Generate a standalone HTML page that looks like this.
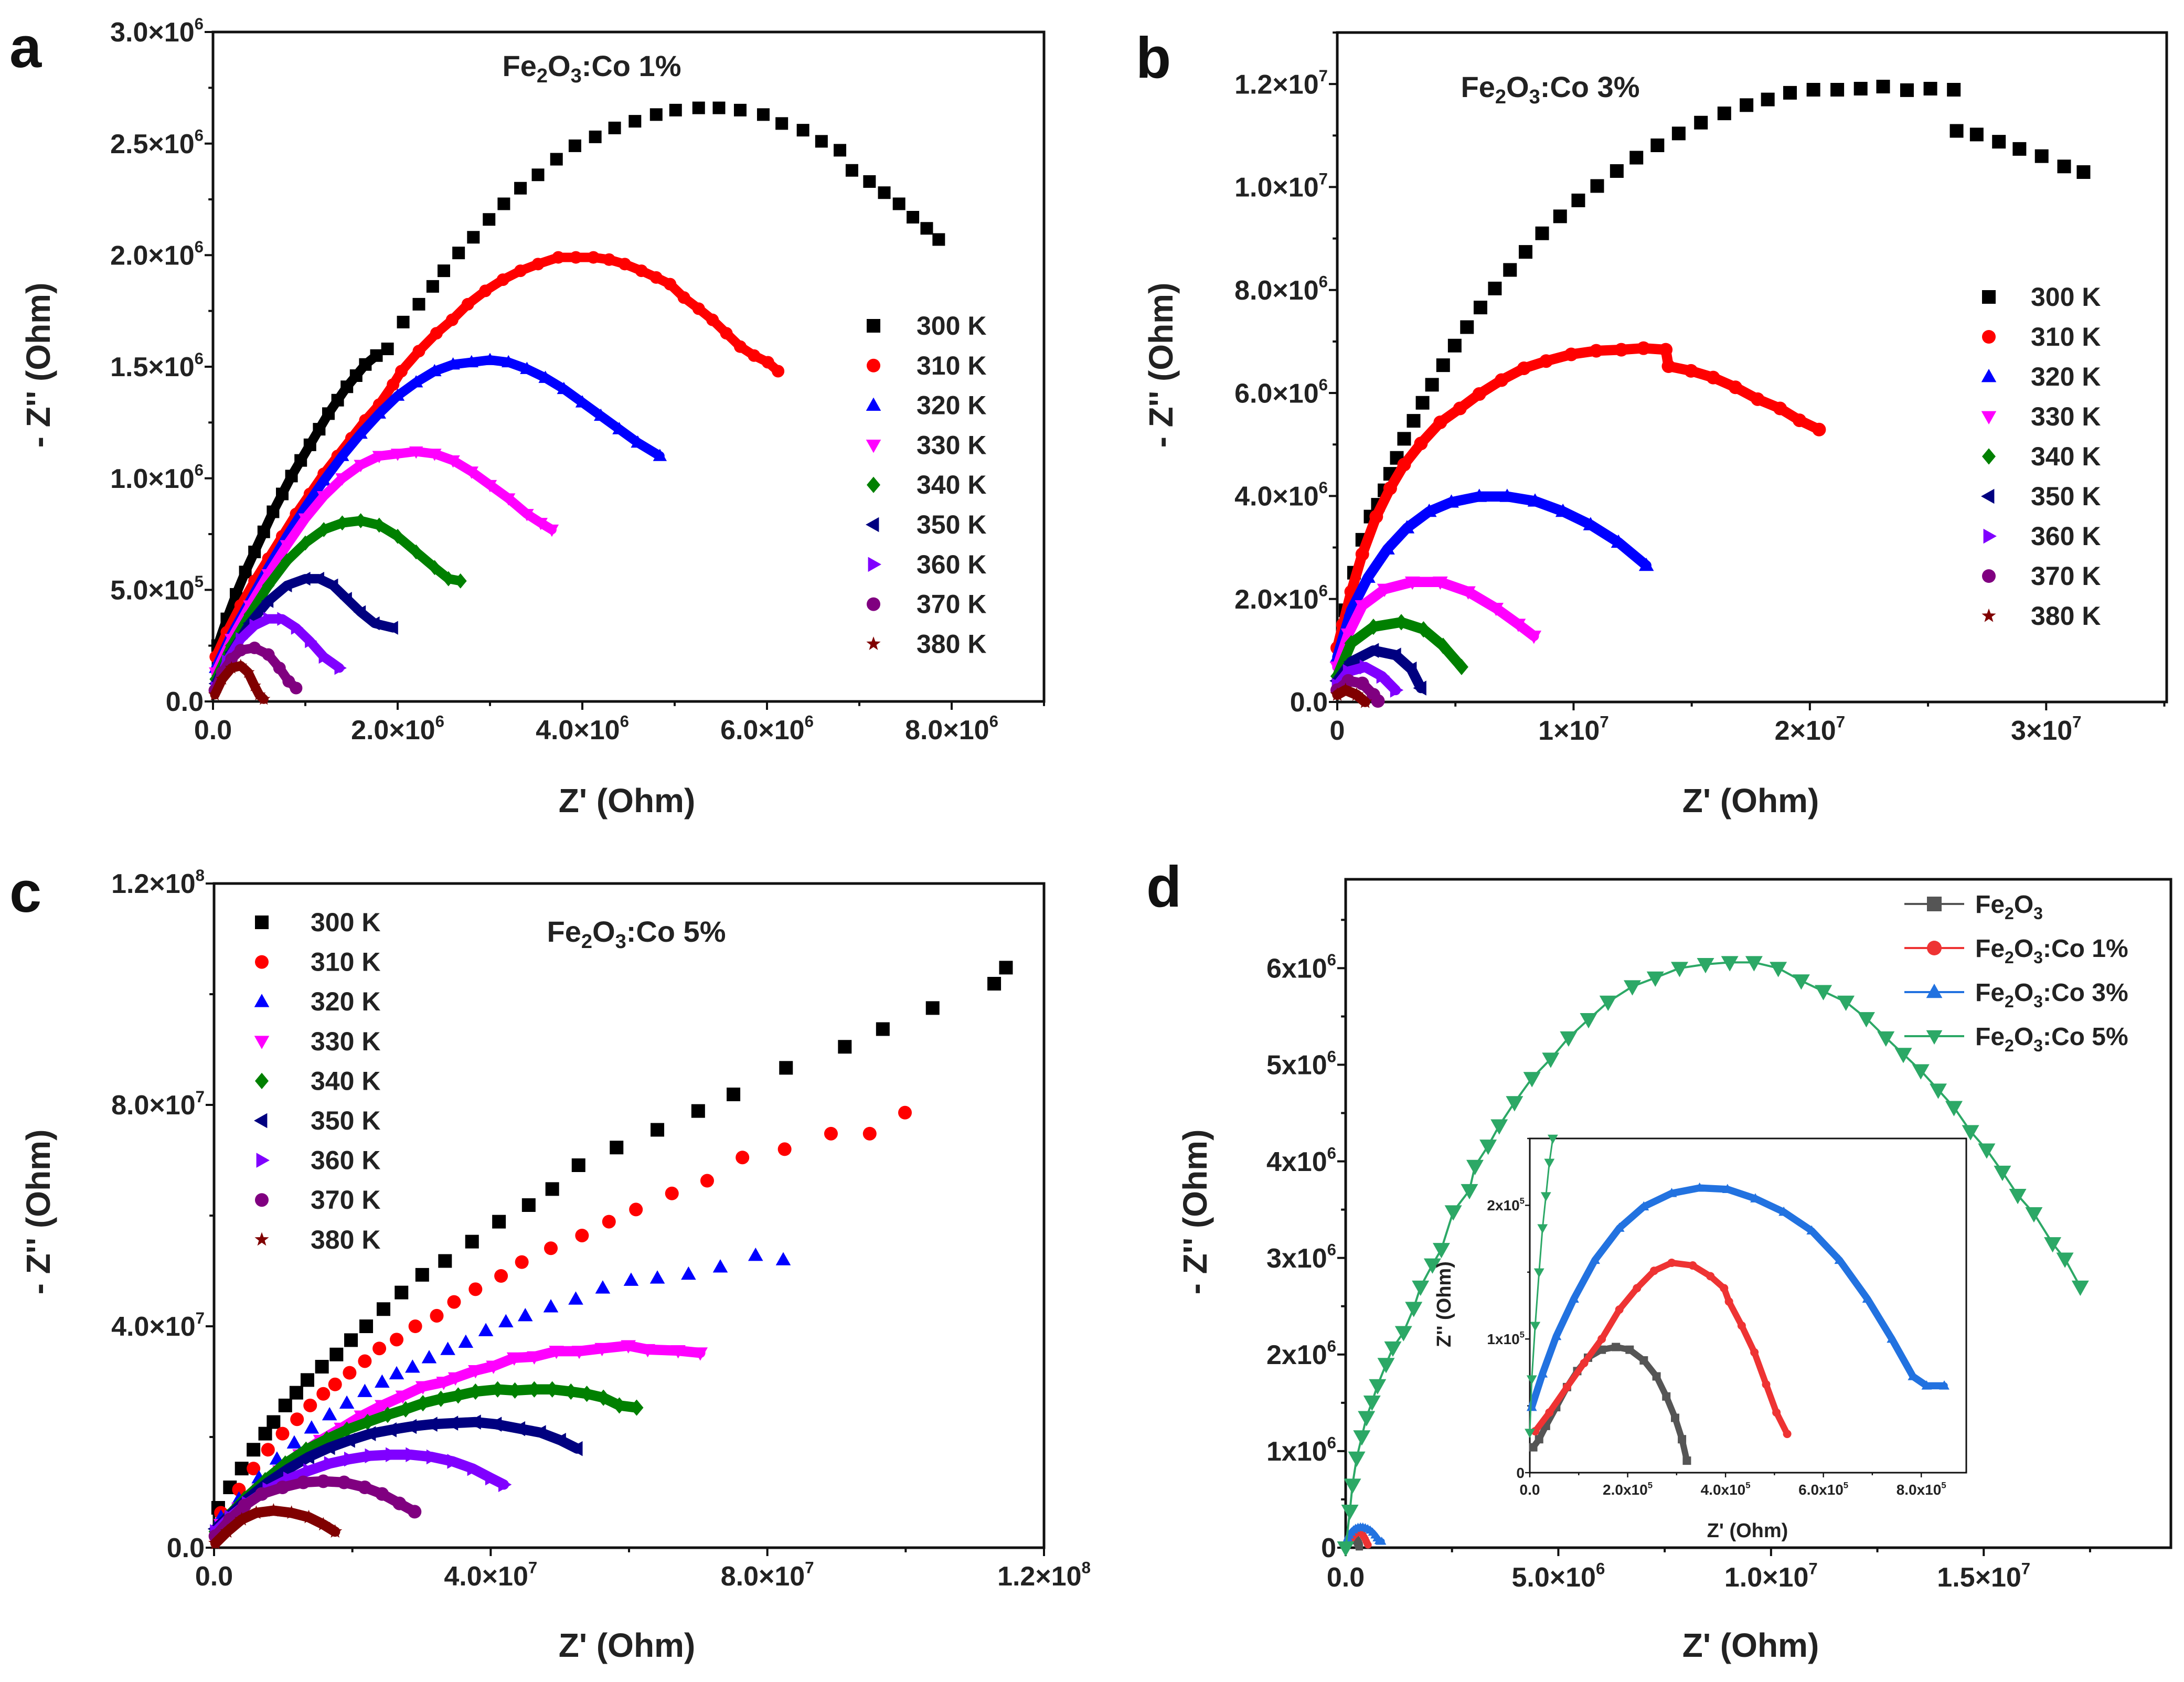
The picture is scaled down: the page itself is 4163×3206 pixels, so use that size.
<!DOCTYPE html>
<html><head><meta charset="utf-8"><style>
html,body{margin:0;padding:0;background:#fff}
svg{display:block;font-family:"Liberation Sans",sans-serif}
</style></head><body>
<svg id="fig" width="4163" height="3206" viewBox="0 0 4163 3206" xmlns="http://www.w3.org/2000/svg"></svg>
<script>
// ---------- Panel a data (x,y in 1e6 Ohm) ----------
const a300=[[0.05,0.25],[0.15,0.37],[0.25,0.48],[0.35,0.58],[0.45,0.67],[0.55,0.76],[0.65,0.85],[0.75,0.93],[0.85,1.01],[0.95,1.08],[1.05,1.15],[1.15,1.22],[1.25,1.29],[1.35,1.35],[1.45,1.41],[1.55,1.46],[1.65,1.51],[1.77,1.55],[1.89,1.58],[2.06,1.70],[2.23,1.78],[2.38,1.86],[2.50,1.93],[2.66,2.01],[2.82,2.08],[2.99,2.16],[3.15,2.23],[3.33,2.30],[3.52,2.36],[3.72,2.43],[3.92,2.49],[4.14,2.53],[4.35,2.57],[4.57,2.60],[4.80,2.63],[5.01,2.65],[5.26,2.66],[5.48,2.66],[5.71,2.65],[5.96,2.63],[6.16,2.59],[6.39,2.56],[6.59,2.51],[6.79,2.47],[6.92,2.38],[7.11,2.33],[7.27,2.28],[7.43,2.23],[7.58,2.17],[7.73,2.12],[7.86,2.07]];
const a310=[[0.03,0.2],[0.15,0.31],[0.3,0.43],[0.45,0.54],[0.6,0.64],[0.75,0.74],[0.9,0.84],[1.05,0.93],[1.2,1.02],[1.35,1.1],[1.5,1.18],[1.65,1.26],[1.8,1.33],[1.95,1.42],[2.04,1.48],[2.23,1.57],[2.42,1.65],[2.59,1.71],[2.76,1.78],[2.95,1.84],[3.14,1.89],[3.33,1.93],[3.52,1.96],[3.74,1.99],[3.93,1.99],[4.12,1.99],[4.29,1.98],[4.46,1.96],[4.64,1.93],[4.80,1.90],[4.95,1.87],[5.10,1.81],[5.26,1.76],[5.41,1.71],[5.56,1.65],[5.71,1.59],[5.86,1.55],[6.01,1.52],[6.12,1.48]];
const a320=[[0.03,0.15],[0.2,0.3],[0.4,0.45],[0.6,0.6],[0.8,0.74],[1.0,0.87],[1.2,0.99],[1.4,1.1],[1.6,1.2],[1.8,1.29],[2.0,1.37],[2.2,1.43],[2.4,1.48],[2.6,1.51],[2.8,1.52],[3.0,1.53],[3.2,1.52],[3.4,1.49],[3.6,1.45],[3.8,1.40],[4.0,1.34],[4.2,1.28],[4.4,1.22],[4.6,1.16],[4.84,1.10]];
const a330=[[0.03,0.13],[0.2,0.28],[0.4,0.43],[0.6,0.57],[0.8,0.7],[1.0,0.82],[1.2,0.92],[1.4,1.0],[1.6,1.06],[1.8,1.1],[2.0,1.11],[2.2,1.12],[2.4,1.11],[2.6,1.08],[2.8,1.03],[3.0,0.97],[3.2,0.91],[3.4,0.84],[3.55,0.8],[3.67,0.77]];
const a340=[[0.03,0.1],[0.2,0.25],[0.4,0.39],[0.6,0.52],[0.8,0.63],[1.0,0.71],[1.2,0.77],[1.4,0.8],[1.6,0.81],[1.8,0.79],[2.0,0.74],[2.2,0.67],[2.4,0.6],[2.55,0.55],[2.68,0.54]];
const a350=[[0.03,0.08],[0.2,0.22],[0.4,0.35],[0.6,0.45],[0.8,0.52],[1.0,0.55],[1.15,0.55],[1.3,0.52],[1.45,0.46],[1.6,0.4],[1.75,0.35],[1.95,0.33]];
const a360=[[0.03,0.06],[0.15,0.18],[0.3,0.28],[0.45,0.34],[0.6,0.37],[0.75,0.37],[0.9,0.33],[1.05,0.27],[1.2,0.2],[1.37,0.15]];
const a370=[[0.02,0.05],[0.1,0.13],[0.2,0.19],[0.3,0.23],[0.45,0.24],[0.6,0.21],[0.72,0.15],[0.82,0.09],[0.9,0.06]];
const a380=[[0.02,0.03],[0.1,0.1],[0.2,0.15],[0.3,0.16],[0.38,0.13],[0.45,0.07],[0.5,0.03],[0.55,0.01]];
// ---------- Panel b data (x in 1e7, y in 1e6) ----------
const b300=[[0.012,0.96],[0.035,1.78],[0.071,2.51],[0.106,3.15],[0.141,3.60],[0.172,3.83],[0.200,4.11],[0.224,4.43],[0.252,4.74],[0.283,5.11],[0.323,5.46],[0.361,5.81],[0.401,6.16],[0.448,6.54],[0.497,6.92],[0.549,7.28],[0.606,7.66],[0.667,8.03],[0.731,8.39],[0.797,8.74],[0.867,9.10],[0.943,9.43],[1.020,9.74],[1.100,10.02],[1.183,10.31],[1.266,10.57],[1.355,10.81],[1.445,11.04],[1.539,11.25],[1.638,11.43],[1.732,11.59],[1.822,11.70],[1.916,11.83],[2.015,11.89],[2.116,11.89],[2.215,11.91],[2.310,11.95],[2.411,11.88],[2.510,11.91],[2.609,11.89],[2.621,11.09],[2.706,11.02],[2.800,10.88],[2.887,10.74],[2.981,10.60],[3.076,10.40],[3.158,10.29]];
const b310=[[0,1.05],[0.024,1.5],[0.059,2.14],[0.106,2.87],[0.165,3.6],[0.224,4.15],[0.283,4.61],[0.354,5.02],[0.436,5.43],[0.519,5.70],[0.601,5.98],[0.695,6.25],[0.790,6.48],[0.884,6.62],[0.99,6.75],[1.096,6.82],[1.202,6.84],[1.296,6.87],[1.39,6.84],[1.402,6.52],[1.497,6.43],[1.591,6.30],[1.685,6.11],[1.779,5.88],[1.874,5.70],[1.956,5.47],[2.039,5.29]];
const b320=[[0,0.87],[0.059,1.78],[0.13,2.42],[0.212,2.97],[0.295,3.38],[0.389,3.70],[0.483,3.88],[0.601,3.99],[0.719,3.99],[0.837,3.90],[0.955,3.70],[1.072,3.44],[1.19,3.10],[1.308,2.65]];
const b330=[[0,0.68],[0.047,1.32],[0.106,1.87],[0.2,2.19],[0.318,2.33],[0.436,2.33],[0.554,2.14],[0.672,1.82],[0.766,1.51],[0.832,1.28]];
const b340=[[0,0.5],[0.059,1.14],[0.153,1.46],[0.271,1.55],[0.365,1.41],[0.448,1.09],[0.526,0.68]];
const b350=[[0,0.41],[0.059,0.78],[0.153,1.0],[0.247,0.91],[0.313,0.64],[0.354,0.27]];
const b360=[[0,0.32],[0.047,0.59],[0.118,0.68],[0.189,0.5],[0.247,0.23]];
const b370=[[0,0.23],[0.047,0.41],[0.106,0.36],[0.153,0.14],[0.172,0.02]];
const b380=[[0,0.14],[0.035,0.23],[0.082,0.14],[0.118,0]];
// ---------- Panel c data (x,y in 1e7) ----------
const c300=[[0.06,0.72],[0.23,1.09],[0.40,1.43],[0.57,1.77],[0.74,2.06],[0.86,2.27],[1.03,2.57],[1.19,2.80],[1.35,3.03],[1.56,3.27],[1.77,3.49],[1.98,3.75],[2.20,4.0],[2.45,4.31],[2.71,4.61],[3.01,4.93],[3.34,5.18],[3.73,5.53],[4.12,5.89],[4.55,6.19],[4.89,6.48],[5.27,6.91],[5.82,7.23],[6.41,7.55],[7.0,7.89],[7.51,8.19],[8.27,8.67],[9.12,9.05],[9.67,9.37],[10.39,9.75],[11.28,10.19],[11.45,10.48]];
const c310=[[0.10,0.63],[0.36,1.05],[0.57,1.43],[0.78,1.77],[0.99,2.06],[1.20,2.32],[1.39,2.57],[1.58,2.78],[1.75,2.95],[1.96,3.16],[2.18,3.37],[2.39,3.60],[2.64,3.76],[2.91,4.0],[3.22,4.19],[3.47,4.44],[3.78,4.67],[4.15,4.91],[4.45,5.16],[4.87,5.41],[5.32,5.64],[5.71,5.89],[6.10,6.11],[6.62,6.4],[7.13,6.63],[7.64,7.05],[8.25,7.2],[8.92,7.48],[9.48,7.48],[9.99,7.86]];
const c320=[[0.10,0.55],[0.36,0.88],[0.65,1.26],[0.91,1.60],[1.16,1.89],[1.41,2.16],[1.67,2.40],[1.92,2.61],[2.18,2.82],[2.43,2.99],[2.64,3.14],[2.87,3.26],[3.11,3.43],[3.38,3.58],[3.64,3.71],[3.93,3.92],[4.22,4.08],[4.50,4.19],[4.87,4.35],[5.23,4.49],[5.62,4.69],[6.03,4.83],[6.41,4.87],[6.86,4.94],[7.32,5.07],[7.83,5.28],[8.23,5.2]];
const c330=[[0.1,0.42],[0.36,0.72],[0.65,1.05],[0.95,1.39],[1.24,1.68],[1.54,1.94],[1.84,2.16],[2.13,2.38],[2.43,2.57],[2.73,2.74],[3.02,2.91],[3.32,2.99],[3.49,3.07],[3.78,3.20],[4.04,3.28],[4.34,3.43],[4.63,3.45],[4.95,3.55],[5.28,3.55],[5.61,3.60],[5.99,3.65],[6.27,3.58],[6.71,3.56],[7.03,3.52]];
const c340=[[0.02,0.29],[0.19,0.55],[0.44,0.88],[0.74,1.22],[1.03,1.52],[1.33,1.77],[1.63,1.96],[1.92,2.13],[2.22,2.27],[2.51,2.40],[2.77,2.50],[3.02,2.61],[3.28,2.69],[3.53,2.75],[3.78,2.82],[4.10,2.86],[4.35,2.84],[4.63,2.86],[4.89,2.86],[5.16,2.82],[5.39,2.78],[5.63,2.71],[5.86,2.57],[6.11,2.53]];
const c350=[[0.02,0.34],[0.23,0.59],[0.48,0.88],[0.78,1.18],[1.08,1.43],[1.37,1.64],[1.67,1.81],[1.96,1.94],[2.26,2.06],[2.56,2.13],[2.85,2.19],[3.15,2.23],[3.45,2.25],[3.78,2.27],[4.08,2.23],[4.42,2.15],[4.72,2.08],[5.01,1.94],[5.25,1.79]];
const c360=[[0.02,0.29],[0.23,0.55],[0.48,0.80],[0.78,1.05],[1.08,1.24],[1.37,1.39],[1.67,1.52],[1.96,1.60],[2.26,1.66],[2.56,1.68],[2.85,1.68],[3.15,1.64],[3.45,1.56],[3.74,1.43],[4.0,1.26],[4.19,1.14]];
const c370=[[0.02,0.21],[0.23,0.51],[0.44,0.76],[0.69,0.97],[0.99,1.09],[1.29,1.18],[1.58,1.20],[1.88,1.18],[2.18,1.09],[2.43,0.97],[2.68,0.80],[2.90,0.65]];
const c380=[[0.02,0.08],[0.19,0.29],[0.40,0.51],[0.61,0.63],[0.86,0.67],[1.12,0.63],[1.37,0.55],[1.58,0.42],[1.75,0.29]];
// ---------- Panel d data ----------
const dCo5=[[0,0],[0.1,0.38],[0.16,0.65],[0.26,0.93],[0.38,1.15],[0.49,1.35],[0.62,1.51],[0.75,1.68],[0.95,1.90],[1.11,2.07],[1.36,2.23],[1.60,2.48],[1.76,2.70],[2.04,2.93],[2.25,3.09],[2.53,3.48],[2.91,3.70],[3.04,3.95],[3.35,4.16],[3.61,4.37],[3.97,4.61],[4.38,4.86],[4.82,5.06],[5.24,5.28],[5.71,5.47],[6.17,5.65],[6.74,5.81],[7.28,5.90],[7.85,6.00],[8.46,6.04],[9.03,6.06],[9.60,6.06],[10.17,6.00],[10.71,5.87],[11.23,5.76],[11.76,5.65],[12.24,5.48],[12.70,5.28],[13.11,5.11],[13.52,4.94],[13.93,4.74],[14.30,4.56],[14.69,4.31],[15.07,4.12],[15.44,3.89],[15.80,3.65],[16.18,3.46],[16.62,3.15],[16.91,2.99],[17.27,2.70]];
const dFe=[[0.07,0.19],[0.19,0.25],[0.33,0.35],[0.54,0.49],[0.76,0.64],[0.97,0.76],[1.19,0.86],[1.47,0.92],[1.76,0.94],[2.04,0.92],[2.33,0.84],[2.59,0.72],[2.79,0.57],[2.97,0.41],[3.11,0.25],[3.21,0.09]];
const dCo1=[[0.11,0.31],[0.4,0.45],[0.76,0.64],[1.11,0.82],[1.47,1.0],[1.83,1.22],[2.19,1.38],[2.54,1.51],[2.9,1.57],[3.33,1.55],[3.69,1.47],[3.97,1.38],[4.07,1.28],[4.33,1.10],[4.59,0.90],[4.83,0.66],[5.04,0.45],[5.26,0.29]];
const dCo3=[[0.04,0.49],[0.26,0.74],[0.54,1.02],[0.9,1.30],[1.33,1.59],[1.83,1.83],[2.33,1.99],[2.9,2.09],[3.47,2.13],[4.04,2.12],[4.61,2.05],[5.19,1.95],[5.76,1.81],[6.33,1.59],[6.9,1.30],[7.4,1.00],[7.83,0.72],[8.11,0.65],[8.47,0.65]];
const dCo5inset=[[0.0,0.3],[0.04,0.7],[0.11,1.1],[0.19,1.5],[0.26,1.83],[0.33,2.07],[0.4,2.32],[0.47,2.5]];
// tick labels
const aXTicks=["0.0","2.0×10|6","4.0×10|6","6.0×10|6","8.0×10|6"];
const aYTicks=["0.0","5.0×10|5","1.0×10|6","1.5×10|6","2.0×10|6","2.5×10|6","3.0×10|6"];
const bXTicks=["0","1×10|7","2×10|7","3×10|7"];
const bYTicks=["0.0","2.0×10|6","4.0×10|6","6.0×10|6","8.0×10|6","1.0×10|7","1.2×10|7"];
const cXTicks=["0.0","4.0×10|7","8.0×10|7","1.2×10|8"];
const cYTicks=["0.0","4.0×10|7","8.0×10|7","1.2×10|8"];
const dXTicks=["0.0","5.0×10|6","1.0×10|7","1.5×10|7"];
const dYTicks=["0","1x10|6","2x10|6","3x10|6","4x10|6","5x10|6","6x10|6"];
const iXTicks=["0.0","2.0x10|5","4.0x10|5","6.0x10|5","8.0x10|5"];
const iYTicks=["0","1x10|5","2x10|5"];
const tempLabels=["300 K","310 K","320 K","330 K","340 K","350 K","360 K","370 K","380 K"];
const dLegend=["Fe|2|O|3","Fe|2|O|3|:Co 1%","Fe|2|O|3|:Co 3%","Fe|2|O|3|:Co 5%"];

const NS="http://www.w3.org/2000/svg";
const svg=document.getElementById('fig');
function mk(tag,attrs,parent){const e=document.createElementNS(NS,tag);for(const k in attrs)e.setAttribute(k,attrs[k]);(parent||svg).appendChild(e);return e;}
const COLORS=["#000000","#ff0000","#0000ff","#ff00ff","#008000","#000080","#8000ff","#800080","#800000"];
const SHAPES=["square","circle","up","down","diamond","left","right","circle","star"];
function markerPath(s,x,y,r){
  if(s==="square")return `M${x-r},${y-r}h${2*r}v${2*r}h${-2*r}z`;
  if(s==="circle")return `M${x-r},${y}a${r},${r} 0 1,0 ${2*r},0a${r},${r} 0 1,0 ${-2*r},0z`;
  if(s==="up")return `M${x},${y-r*1.15}L${x+r*1.1},${y+r*0.8}L${x-r*1.1},${y+r*0.8}z`;
  if(s==="down")return `M${x},${y+r*1.15}L${x+r*1.1},${y-r*0.8}L${x-r*1.1},${y-r*0.8}z`;
  if(s==="diamond")return `M${x},${y-r*1.2}L${x+r*1.0},${y}L${x},${y+r*1.2}L${x-r*1.0},${y}z`;
  if(s==="left")return `M${x-r*1.15},${y}L${x+r*0.8},${y-r*1.1}L${x+r*0.8},${y+r*1.1}z`;
  if(s==="right")return `M${x+r*1.15},${y}L${x-r*0.8},${y-r*1.1}L${x-r*0.8},${y+r*1.1}z`;
  let d="";for(let i=0;i<10;i++){const a=-Math.PI/2+i*Math.PI/5;const rr=i%2?r*0.45:r*1.1;d+=(i?"L":"M")+(x+rr*Math.cos(a))+","+(y+rr*Math.sin(a));}return d+"z";
}
function label(g,str,x,y,size,anchor,weight){
  const parts=str.split("|");
  const t=mk('text',{x:x,y:y,'font-size':size,'text-anchor':anchor,'font-weight':weight||'bold',fill:'#222'},g);
  t.appendChild(document.createTextNode(parts[0]));
  if(parts.length>1){const s=mk('tspan',{'font-size':size*0.6,dy:-size*0.45},t);s.textContent=parts[1];}
  return t;
}
function makeAxes(name,P){
  const g=mk('g',{});
  
  
  P.sx=v=>P.L+(v-P.x0)/(P.x1-P.x0)*(P.R-P.L);
  P.sy=v=>P.B-(v-P.y0)/(P.y1-P.y0)*(P.B-P.T);
  const fr=mk('rect',{x:P.L,y:P.T,width:P.R-P.L,height:P.B-P.T,fill:'none',stroke:'#111','stroke-width':P.lw},g);
  
  
  const xg=mk('g',{},g);
  
  
  for(let v=P.x0;v<=P.x1+1e-9;v+=P.xmin){const isM=Math.abs(Math.round(v/P.xmaj)*P.xmaj-v)<1e-6;const x=P.sx(v);
    mk('line',{x1:x,x2:x,y1:P.B,y2:P.B+(isM?P.tl:P.tl*0.55),stroke:'#111','stroke-width':P.lw*0.8},xg);}
  P.xTicks.forEach((s,i)=>{label(xg,s,P.sx(P.x0+i*P.xmaj),P.B+P.xlo,P.fs,'middle');});
  const yg=mk('g',{},g);
  
  
  for(let v=P.y0;v<=P.y1+1e-9;v+=P.ymin){const isM=Math.abs(Math.round(v/P.ymaj)*P.ymaj-v)<1e-6;const y=P.sy(v);
    mk('line',{x1:P.L,x2:P.L-(isM?P.tl:P.tl*0.55),y1:y,y2:y,stroke:'#111','stroke-width':P.lw*0.8},yg);}
  P.yTicks.forEach((s,i)=>{label(yg,s,P.L-P.ylo,P.sy(P.y0+i*P.ymaj)+P.fs*0.35,P.fs,'end');});
  if(P.xt){const t=mk('text',{x:P.xt[0],y:P.xt[1],'font-size':P.ts,'text-anchor':'middle','font-weight':'bold',fill:'#222'},g);t.textContent="Z' (Ohm)";
    }
  if(P.yt){const t=mk('text',{x:0,y:0,transform:`translate(${P.yt[0]},${P.yt[1]}) rotate(-90)`,'font-size':P.ts,'text-anchor':'middle','font-weight':'bold',fill:'#222'},g);t.textContent=P.ytText||"- Z'' (Ohm)";
    }
  return g;
}
function series(P,name,pts,shape,color,r,dense,xf,yf,denseN){
  const g=mk('g',{fill:color});
  
  
  xf=xf||1;yf=yf||1;
  if(dense){const lp=denseN?pts.slice(0,denseN):pts;const d=lp.map((p,i)=>(i?"L":"M")+P.sx(p[0]*xf)+","+P.sy(p[1]*yf)).join("");
    mk('path',{d:d,fill:'none',stroke:color,'stroke-width':r*1.5,'stroke-linejoin':'round','stroke-linecap':'round'},g);}
  pts.forEach(p=>{mk('path',{d:markerPath(shape,P.sx(p[0]*xf),P.sy(p[1]*yf),r)},g);});
  return g;
}
function tempLegend(name,mx,tx,y0,dy,r){
  const g=mk('g',{});
  
  
  tempLabels.forEach((s,i)=>{
    const e=mk('g',{},g);
    
    
    mk('path',{d:markerPath(SHAPES[i],mx,y0+i*dy,r),fill:COLORS[i]},e);
    const t=mk('text',{x:tx,y:y0+i*dy+17,'font-size':50,'font-weight':'bold',fill:'#222'},e);t.textContent=s;
  });
}
function panelTitle(name,x,y,pct){
  const t=mk('text',{x:x,y:y,'font-size':56,'font-weight':'bold','text-anchor':'middle',fill:'#222'});
  
  
  t.appendChild(document.createTextNode('Fe'));
  let s=mk('tspan',{'font-size':38,dy:12},t);s.textContent='2';
  s=mk('tspan',{dy:-12},t);s.textContent='O';
  s=mk('tspan',{'font-size':38,dy:12},t);s.textContent='3';
  s=mk('tspan',{dy:-12},t);s.textContent=':Co '+pct;
}
function letter(ch,x,y){const t=mk('text',{x:x,y:y,'font-size':110,'font-weight':'bold',fill:'#111'});t.textContent=ch;
  }

// ---- Panel a ----
const PA={L:406,R:1990,T:61,B:1337,x0:0,x1:9,y0:0,y1:3,xmaj:2,xmin:1,ymaj:0.5,ymin:0.25,tl:16,lw:5,fs:52,xlo:72,ylo:18,ts:64,xTicks:aXTicks,yTicks:aYTicks,xt:[1195,1548],yt:[95,696]};
makeAxes('panel-a',PA);
[a300,a310,a320,a330,a340,a350,a360,a370,a380].forEach((d,i)=>series(PA,'panel-a-series-'+tempLabels[i].replace(' ','').toLowerCase(),d,SHAPES[i],COLORS[i],12,true,1,1,i===0?18:0));
tempLegend('panel-a-legend',1665,1747,621,75.8,13);
panelTitle('panel-a-title',1128,145,'1%');
letter('a',18,128);
// ---- Panel b ----
const PB={L:2549,R:4130,T:62,B:1338,x0:0,x1:3.51,y0:0,y1:13,xmaj:1,xmin:0.5,ymaj:2,ymin:1,tl:16,lw:5,fs:52,xlo:72,ylo:18,ts:64,xTicks:bXTicks,yTicks:bYTicks,xt:[3337,1548],yt:[2235,696]};
makeAxes('panel-b',PB);
[b300,b310,b320,b330,b340,b350,b360,b370,b380].forEach((d,i)=>series(PB,'panel-b-series-'+tempLabels[i].replace(' ','').toLowerCase(),d,SHAPES[i],COLORS[i],13,i>0));
tempLegend('panel-b-legend',3791,3871,566,76,13);
panelTitle('panel-b-title',2955,185,'3%');
letter('b',2165,148);
// ---- Panel c ----
const PC={L:408,R:1990,T:1684,B:2950,x0:0,x1:12,y0:0,y1:12,xmaj:4,xmin:2,ymaj:4,ymin:2,tl:16,lw:5,fs:52,xlo:72,ylo:18,ts:64,xTicks:cXTicks,yTicks:cYTicks,xt:[1195,3158],yt:[95,2310]};
makeAxes('panel-c',PC);
[c300,c310,c320,c330,c340,c350,c360,c370,c380].forEach((d,i)=>series(PC,'panel-c-series-'+tempLabels[i].replace(' ','').toLowerCase(),d,SHAPES[i],COLORS[i],13,i>2));
tempLegend('panel-c-legend',499,592,1758,75.6,13);
panelTitle('panel-c-title',1213,1795,'5%');
letter('c',18,1738);
// ---- Panel d ----
const PD={L:2565,R:4138,T:1676,B:2950,x0:0,x1:19.4,y0:0,y1:6.92,xmaj:5,xmin:2.5,ymaj:1,ymin:0.5,tl:16,lw:5,fs:52,xlo:74,ylo:18,ts:64,xTicks:dXTicks,yTicks:dYTicks,xt:[3337,3158],yt:[2300,2310]};
makeAxes('panel-d',PD);
const DCOL=["#555555","#ee3333","#2272e0","#2ca866"];
const DSH=["square","circle","up","down"];
series(PD,'panel-d-series-fe2o3',dFe,'square',DCOL[0],7,true,0.1,0.1);
series(PD,'panel-d-series-co1',dCo1,'circle',DCOL[1],7,true,0.1,0.1);
series(PD,'panel-d-series-co3',dCo3,'up',DCOL[2],8,true,0.1,0.1);
(function(){const g=mk('g',{});
  mk('path',{d:dCo5.map((p,i)=>(i?"L":"M")+PD.sx(p[0])+","+PD.sy(p[1])).join(""),fill:'none',stroke:DCOL[3],'stroke-width':4},g);
  dCo5.forEach(p=>mk('path',{d:markerPath('down',PD.sx(p[0]),PD.sy(p[1]),15),fill:DCOL[3]},g));})();
(function(){const g=mk('g',{});
  dLegend.forEach((s,i)=>{const y=1723+i*84;const e=mk('g',{},g);
    
    mk('line',{x1:3630,x2:3744,y1:y,y2:y,stroke:DCOL[i],'stroke-width':4},e);
    mk('path',{d:markerPath(DSH[i],3687,y,14),fill:DCOL[i]},e);
    const p=s.split("|");const t=mk('text',{x:3765,y:y+17,'font-size':48,'font-weight':'bold',fill:'#222'},e);
    t.appendChild(document.createTextNode(p[0]));
    let sp=mk('tspan',{'font-size':32,dy:12},t);sp.textContent=p[1];
    sp=mk('tspan',{dy:-12},t);sp.textContent=p[2];
    sp=mk('tspan',{'font-size':32,dy:12},t);sp.textContent=p[3];
    if(p[4]){sp=mk('tspan',{dy:-12},t);sp.textContent=p[4];}
  });})();
letter('d',2185,1728);
// ---- Inset ----
const PI={L:2916,R:3748,T:2170,B:2807,x0:0,x1:8.92,y0:0,y1:2.5,xmaj:2,xmin:1,ymaj:1,ymin:0.5,tl:9,lw:3,fs:28,xlo:42,ylo:10,ts:38,xTicks:iXTicks,yTicks:iYTicks,xt:[3331,2930],yt:[2765,2486],ytText:"Z'' (Ohm)"};
mk('rect',{x:PI.L,y:PI.T,width:PI.R-PI.L,height:PI.B-PI.T,fill:'#fff'});
makeAxes('inset',PI);
series(PI,'inset-series-fe2o3',dFe,'square',DCOL[0],8,true);
series(PI,'inset-series-co1',dCo1,'circle',DCOL[1],8,true);
series(PI,'inset-series-co3',dCo3,'up',DCOL[2],9,true);
(function(){const g=mk('g',{});
  mk('path',{d:dCo5inset.map((p,i)=>(i?"L":"M")+PI.sx(p[0])+","+PI.sy(p[1])).join(""),fill:'none',stroke:DCOL[3],'stroke-width':3},g);
  dCo5inset.forEach(p=>mk('path',{d:markerPath('down',PI.sx(p[0]),PI.sy(p[1]),9),fill:DCOL[3]},g));})();
</script>
</body></html>
